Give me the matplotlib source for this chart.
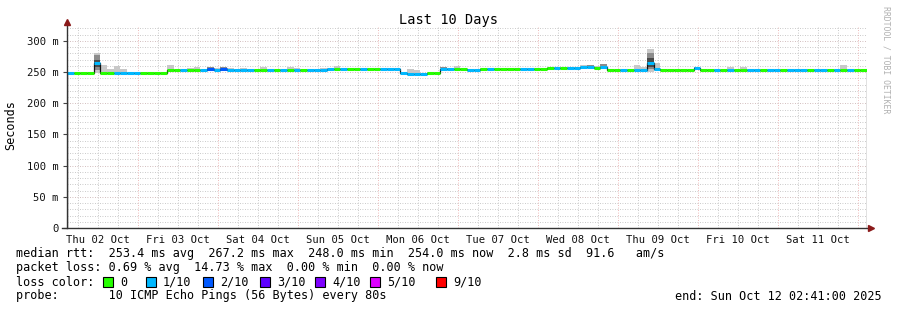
import datetime as dt
import matplotlib
matplotlib.use("Agg")
import matplotlib.pyplot as plt
import matplotlib.dates as mdates
from matplotlib.patches import Rectangle
from matplotlib.ticker import MultipleLocator, FuncFormatter, NullFormatter

plt.rcParams['font.family'] = ['DejaVu Sans Mono']

start = dt.datetime(2025, 10, 2, 2, 41)
end = dt.datetime(2025, 10, 12, 2, 41)
step_hours = 2

# median rtt in ms, one value per 2 hour step
median_rtt = [
    248.5, 248.5, 248.5, 249, 264, 248.5, 248, 248.5, 248, 248,
    248.5, 248.5, 248, 248.5, 248.5, 253.5, 253.5, 253.5, 254, 254,
    254, 255, 254, 255, 254, 254, 254, 254, 254, 254,
    254, 254, 254, 254, 254, 254, 254, 254, 253.5, 254.5,
    254.5, 254.5, 254.5, 254.5, 254.5, 254.5, 254.5, 254.5, 254.5, 254.5,
    248, 247.5, 247.5, 247, 248, 248.5, 255, 254.5, 254.5, 254.5,
    254, 254, 254.5, 254.5, 254.5, 254.5, 254.5, 254.5, 254.5, 254.5,
    254.5, 254.5, 257, 257, 256.5, 257, 256.5, 257.5, 258.5, 257,
    259, 253.5, 253.5, 253.5, 253.5, 253.5, 254, 265, 254.5, 253.5,
    253.5, 253.5, 253.5, 253.5, 256, 254, 254, 254, 254, 254,
    254, 254, 254, 254, 254, 254, 254, 254, 254, 254,
    254, 254, 254, 254, 254, 254, 254, 254, 254, 254,
]

# lost pings out of 10 per step
loss_step = [
    1, 0, 0, 0, 1, 0, 0, 1, 1, 1,
    1, 0, 0, 0, 0, 0, 0, 1, 0, 0,
    1, 2, 1, 2, 1, 1, 1, 1, 0, 0,
    1, 0, 1, 0, 1, 0, 1, 1, 1, 1,
    0, 1, 0, 0, 1, 0, 0, 1, 1, 1,
    1, 1, 1, 1, 0, 0, 1, 1, 0, 0,
    1, 1, 0, 1, 0, 0, 0, 0, 1, 1,
    0, 0, 0, 1, 0, 1, 1, 1, 1, 0,
    1, 0, 0, 1, 0, 1, 1, 1, 1, 0,
    0, 0, 0, 0, 1, 0, 0, 1, 0, 1,
    0, 0, 1, 1, 0, 1, 1, 0, 1, 1,
    1, 0, 1, 1, 0, 1, 0, 1, 0, 0,
]

smoke_hi = [
    250, 250, 250, 251, 281, 261, 255, 260, 255, 250,
    250, 250, 250, 250, 250, 261, 255, 255, 256, 259,
    255.5, 259, 256, 259, 256, 255.5, 257, 255.5, 255.5, 258,
    255.5, 255.5, 255.5, 258, 257, 255.5, 255.5, 255.5, 256, 256,
    260, 257, 256, 256, 257, 256, 256, 256, 256, 256,
    249.5, 255, 254, 249, 250, 250, 259, 256, 260, 256,
    255.5, 255.5, 256, 256, 257, 256, 256, 256, 256, 256,
    256, 256, 258.5, 258.5, 258, 259, 258, 261, 261, 260,
    263, 255, 255, 255, 255, 261, 258, 287, 265, 255,
    255, 255, 255, 255, 259, 255.5, 255.5, 255.5, 255.5, 258,
    255.5, 259, 255.5, 255.5, 255.5, 255.5, 255.5, 255.5, 255.5, 255.5,
    255.5, 255.5, 255.5, 255.5, 255.5, 255.5, 262, 255.5, 255.5, 255.5,
]

smoke_lo = [
    247, 247, 247, 247.5, 249, 247, 246.5, 247, 246.5, 246.5,
    247, 247, 246.5, 247, 247, 250, 252, 252, 252.5, 252.5,
    252.5, 253, 252.5, 253, 252.5, 252.5, 252.5, 252.5, 252.5, 252.5,
    252.5, 252.5, 252.5, 252.5, 252.5, 252.5, 252.5, 252.5, 252, 253,
    253, 253, 253, 253, 253, 253, 253, 253, 253, 253,
    246.5, 246, 246, 245.5, 246.5, 247, 252, 253, 253, 253,
    252.5, 252.5, 253, 253, 253, 253, 253, 253, 253, 253,
    253, 253, 255.5, 255.5, 255, 255.5, 255, 256, 256, 255.5,
    255, 252, 252, 252, 252, 252, 252.5, 250, 252, 252,
    252, 252, 252, 252, 253, 252.5, 252.5, 252.5, 252.5, 252.5,
    252.5, 252.5, 252.5, 252.5, 252.5, 252.5, 252.5, 252.5, 252.5, 252.5,
    252.5, 252.5, 252.5, 252.5, 252.5, 252.5, 252.5, 252.5, 252.5, 252.5,
]

# (step, low, high) darker smoke where the pings spread
dark_smoke = [(4, 253, 277), (21, 255, 259), (23, 255, 259), (56, 256, 259),
              (78, 259, 261), (80, 258, 263), (87, 255, 281), (94, 256, 259)]
core_smoke = [(4, 258, 270), (87, 258, 273)]

loss_labels = ["0", "1/10", "2/10", "3/10", "4/10", "5/10", "9/10"]
loss_colors = ["#26ff00", "#00b8ff", "#0059ff", "#5e00ff", "#7e00ff", "#dd00ff", "#ff0000"]
step_color = {0: 0, 1: 1, 2: 2, 3: 3, 4: 4, 5: 5, 9: 6}

stats_rtt = "median rtt:  253.4 ms avg  267.2 ms max  248.0 ms min  254.0 ms now  2.8 ms sd  91.6   am/s"
stats_loss = "packet loss: 0.69 % avg  14.73 % max  0.00 % min  0.00 % now"
probe_text = "probe:       10 ICMP Echo Pings (56 Bytes) every 80s"
end_text = "end: Sun Oct 12 02:41:00 2025"

W, H = 897, 310
fig = plt.figure(figsize=(W / 100, H / 100), dpi=100)
ax = fig.add_axes([67 / W, 82 / H, 800 / W, 202 / H])

edges = mdates.date2num([start + dt.timedelta(hours=step_hours * k)
                         for k in range(len(median_rtt) + 1)])

ax.stairs(smoke_hi, edges, baseline=smoke_lo, fill=True, color="#c8c8c8", lw=0)
for i, lo, hi in dark_smoke:
    ax.fill_between(edges[i:i + 2], lo, hi, color="#8c8c8c", lw=0)
for i, lo, hi in core_smoke:
    ax.fill_between(edges[i:i + 2], lo, hi, color="#4a4a4a", lw=0)

ax.stairs(median_rtt, edges, color="#111111", lw=0.9)
ax.hlines(median_rtt, edges[:-1], edges[1:],
          colors=[loss_colors[step_color[l]] for l in loss_step], lw=2.2)

ax.set_xlim(mdates.date2num(start), mdates.date2num(end))
ax.set_ylim(0, 324)

ax.xaxis.set_major_locator(mdates.DayLocator())
ax.xaxis.set_minor_locator(mdates.HourLocator(byhour=[0, 6, 12, 18]))
ax.xaxis.set_major_formatter(NullFormatter())


def day_label(x, pos):
    d = mdates.num2date(x)
    return d.strftime("%a %d %b") if d.hour == 12 else ""


ax.xaxis.set_minor_formatter(FuncFormatter(day_label))
ax.yaxis.set_major_locator(MultipleLocator(50))
ax.yaxis.set_minor_locator(MultipleLocator(10))
ax.yaxis.set_major_formatter(FuncFormatter(lambda v, p: "0" if v == 0 else f"{int(v)} m"))

ax.set_axisbelow(True)
ax.grid(which="minor", color="#b8b8b8", ls=(0, (1, 2)), lw=0.6)
ax.grid(which="major", axis="x", color="#e8a4a4", ls=(0, (1, 2)), lw=0.6)
ax.grid(which="major", axis="y", color="#c4a8a8", ls=(0, (1, 2)), lw=0.6)

ax.tick_params(axis="x", which="both", length=0, labelsize=7.6, pad=5, colors="#111111")
ax.tick_params(axis="y", which="major", length=3, width=0.8, labelsize=7.6, pad=3,
               color="#444444", labelcolor="#111111")
ax.tick_params(axis="y", which="minor", length=0)

for s in ax.spines.values():
    s.set_visible(False)
ax.plot([0, 0], [0, 1.02], transform=ax.transAxes, color="#333333", lw=1, clip_on=False)
ax.plot([-0.006, 1.005], [0, 0], transform=ax.transAxes, color="#333333", lw=1, clip_on=False)
ax.plot([0], [1.02], marker="^", ms=4, color="#8b1a1a", transform=ax.transAxes, clip_on=False)
ax.plot([1.005], [0], marker=">", ms=4, color="#8b1a1a", transform=ax.transAxes, clip_on=False)


def ftext(x, y, s, **kw):
    fig.text(x / W, 1 - y / H, s, va="center", **kw)


ftext(448, 20, "Last 10 Days", ha="center", fontsize=9.8)
ftext(11, 125, "Seconds", ha="center", rotation=90, fontsize=8.5)
ftext(886, 60, "RRDTOOL / TOBI OETIKER", ha="center", rotation=270,
      fontsize=5.9, color="#b0b0b0")

ftext(16, 254, stats_rtt, ha="left", fontsize=8.5)
ftext(16, 268, stats_loss, ha="left", fontsize=8.5)
ftext(16, 282, "loss color:", ha="left", fontsize=8.5)
ftext(16, 296, probe_text, ha="left", fontsize=8.5)
ftext(882, 296, end_text, ha="right", fontsize=8.5)

box_x = [103, 146, 203, 260, 315, 370, 436]
for bx, lab, col in zip(box_x, loss_labels, loss_colors):
    fig.add_artist(Rectangle((bx / W, 1 - 287 / H), 10 / W, 10 / H,
                             transform=fig.transFigure, facecolor=col,
                             edgecolor="black", lw=0.8))
    ftext(bx + 17, 282, lab, ha="left", fontsize=8.5)

fig.savefig("out.png", dpi=100)
